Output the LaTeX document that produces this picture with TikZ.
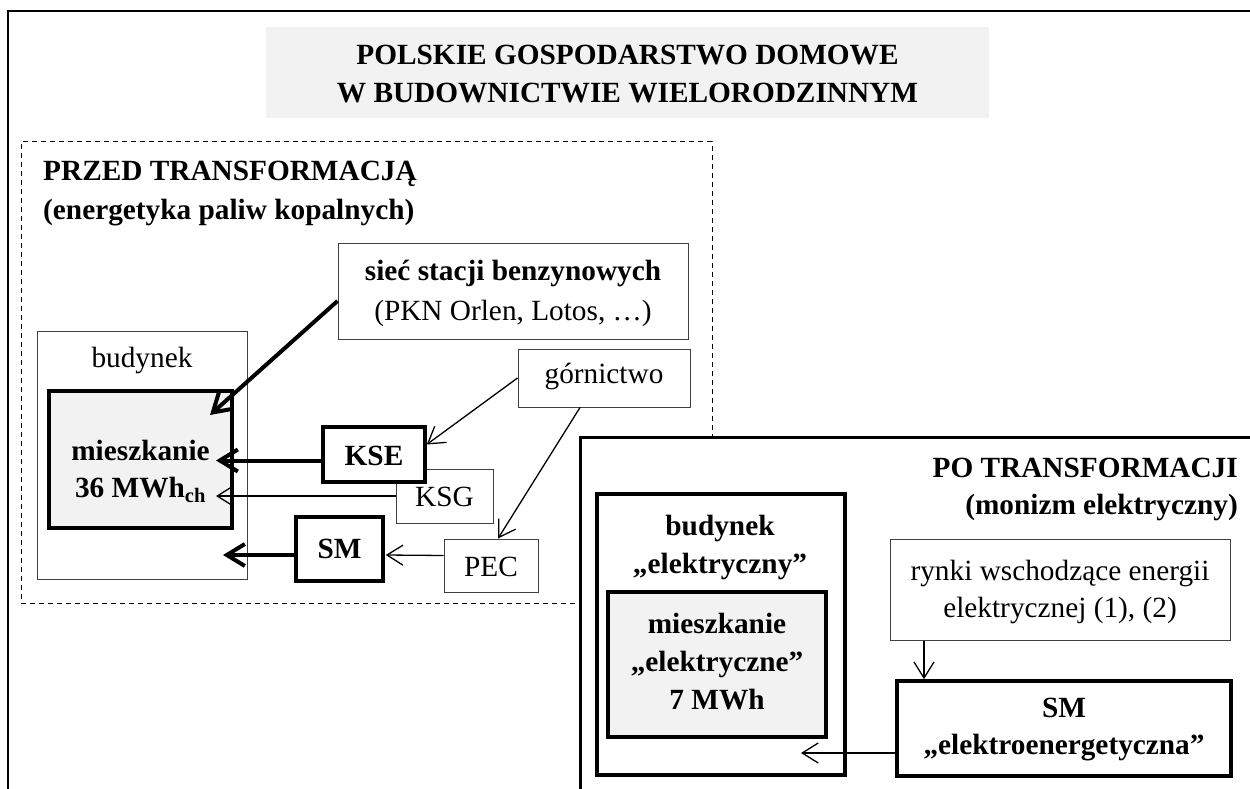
\documentclass[tikz,border=0pt]{standalone}
\usepackage{fontspec}
\setmainfont{Liberation Serif}
\usetikzlibrary{arrows.meta}
\definecolor{boxgray}{HTML}{F2F2F2}
\definecolor{linegray}{HTML}{404040}
\tikzset{
  thinbox/.style={draw=linegray, line width=1pt, fill=white, inner sep=0pt},
  thickbox/.style={draw=black, line width=3.5pt, fill=white, inner sep=0pt},
  txt/.style={anchor=base, inner sep=0pt},
  txtw/.style={anchor=base west, inner sep=0pt},
  txte/.style={anchor=base east, inner sep=0pt},
  thinarr/.style={line width=1.3pt, -{Straight Barb[length=16pt,width=20pt]}},
  thickarr/.style={line width=4pt, -{Straight Barb[length=18pt,width=22pt]}},
}
\begin{document}
\begin{tikzpicture}[x=1pt,y=-1pt,font=\fontsize{29.3}{38.5}\selectfont]
\useasboundingbox (0,0) rectangle (1250,789);
\clip (0,0) rectangle (1250,789);
\fill[white] (0,0) rectangle (1250,789);
% outer frame
\draw[line width=2pt] (8,11) rectangle (1262,800);
% title
\node[fill=boxgray, inner sep=0pt, minimum width=723pt, minimum height=91pt] (title) at (627.5,72.5) {};
\node[txt] (t1) at (627.5,65) {\bfseries POLSKIE GOSPODARSTWO DOMOWE};
\node[txt] (t2) at (627.5,103) {\bfseries W BUDOWNICTWIE WIELORODZINNYM};
% before transformation
\node[draw, line width=1pt, dash pattern=on 5pt off 4pt, inner sep=0pt, minimum width=691pt, minimum height=461pt] (przed) at (366.5,372.5) {};
\node[txtw] (przedA) at (43,180) {\bfseries PRZED TRANSFORMACJĄ};
\node[txtw] (przedB) at (43,219) {\bfseries (energetyka paliw kopalnych)};
\node[thinbox, minimum width=350pt, minimum height=96pt] (siec) at (513,291) {};
\node[txt] (siecA) at (513,280) {\bfseries sieć stacji benzynowych};
\node[txt] (siecB) at (513,320) {(PKN Orlen, Lotos, …)};
\node[thinbox, minimum width=210pt, minimum height=248pt] (bud) at (142,455) {};
\node[txt] (budA) at (142,367) {budynek};
\node[thickbox, fill=boxgray, minimum width=183pt, minimum height=137pt] (miesz) at (140.5,459.5) {};
\node[txt] (mieszA) at (140.5,460) {\bfseries mieszkanie};
\node[txt] (mieszB) at (140.5,497) {\bfseries 36 MWh\textsubscript{ch}};
\node[thinbox, minimum width=172pt, minimum height=58pt] (gorn) at (604,378) {};
\node[txt] (gornA) at (604,383) {górnictwo};
\node[thinbox, minimum width=97pt, minimum height=54pt] (ksg) at (444.5,496) {};
\node[txt] (ksgA) at (444.5,506) {KSG};
\node[thickbox, minimum width=102pt, minimum height=55pt] (kse) at (374,454.5) {};
\node[txt] (kseA) at (374,465) {\bfseries KSE};
\node[thickbox, minimum width=87pt, minimum height=64pt] (sm) at (339.5,549) {};
\node[txt] (smA) at (339.5,558) {\bfseries SM};
\node[thinbox, minimum width=94pt, minimum height=53pt] (pec) at (491,565.5) {};
\node[txt] (pecA) at (491,576) {PEC};
% arrow ends inside boxes
\coordinate (e1) at (210,415);
\coordinate (e2) at (216,460.5);
\coordinate (e3) at (216,496);
\coordinate (e4) at (223,555);
\draw[thickarr] ([yshift=-10pt]siec.west) -- (e1);
\draw[thinarr] (gorn.west) -- ([yshift=10pt]kse.east);
\draw[thinarr] ([xshift=-24pt]gorn.south) -- ([xshift=7pt]pec.north);
\draw[thickarr] ([yshift=-6pt]kse.west) -- (e2);
\draw[thinarr] (ksg.west) -- (e3);
\draw[thinarr] ([yshift=10pt]pec.west) -- ([yshift=-6pt,xshift=1pt]sm.east);
\draw[thickarr] ([yshift=-6pt]sm.west) -- (e4);
% after transformation
\node[draw, line width=3pt, fill=white, inner sep=0pt, minimum width=690pt, minimum height=373pt] (po) at (925,623.5) {};
\node[txte] (poA) at (1238,477) {\bfseries PO TRANSFORMACJI};
\node[txte] (poB) at (1238,514) {\bfseries (monizm elektryczny)};
\node[thickbox, minimum width=248pt, minimum height=281pt] (budE) at (721,634.5) {};
\node[txt] (budEA) at (720,535) {\bfseries budynek};
\node[txt] (budEB) at (720,573) {\bfseries „elektryczny”};
\node[thickbox, fill=boxgray, minimum width=218pt, minimum height=145pt] (mieszE) at (717,664.5) {};
\node[txt] (mieszEA) at (717,633) {\bfseries mieszkanie};
\node[txt] (mieszEB) at (717,671) {\bfseries „elektryczne”};
\node[txt] (mieszEC) at (717,709) {\bfseries 7 MWh};
\node[thinbox, minimum width=340pt, minimum height=101pt] (rynki) at (1060,589.5) {};
\node[txt] (rynkiA) at (1060,580) {rynki wschodzące energii};
\node[txt] (rynkiB) at (1060,617) {elektrycznej (1), (2)};
\node[thickbox, minimum width=334pt, minimum height=95pt] (sme) at (1064,728.5) {};
\node[txt] (smeA) at (1064,717) {\bfseries SM};
\node[txt] (smeB) at (1064,754) {\bfseries „elektroenergetyczna”};
\coordinate (e5) at (801,753);
\draw[thinarr] ([xshift=-136pt]rynki.south) -- ([xshift=-140pt]sme.north);
\draw[thinarr] ([yshift=-24.5pt]sme.west) -- (e5);
\end{tikzpicture}
\end{document}
